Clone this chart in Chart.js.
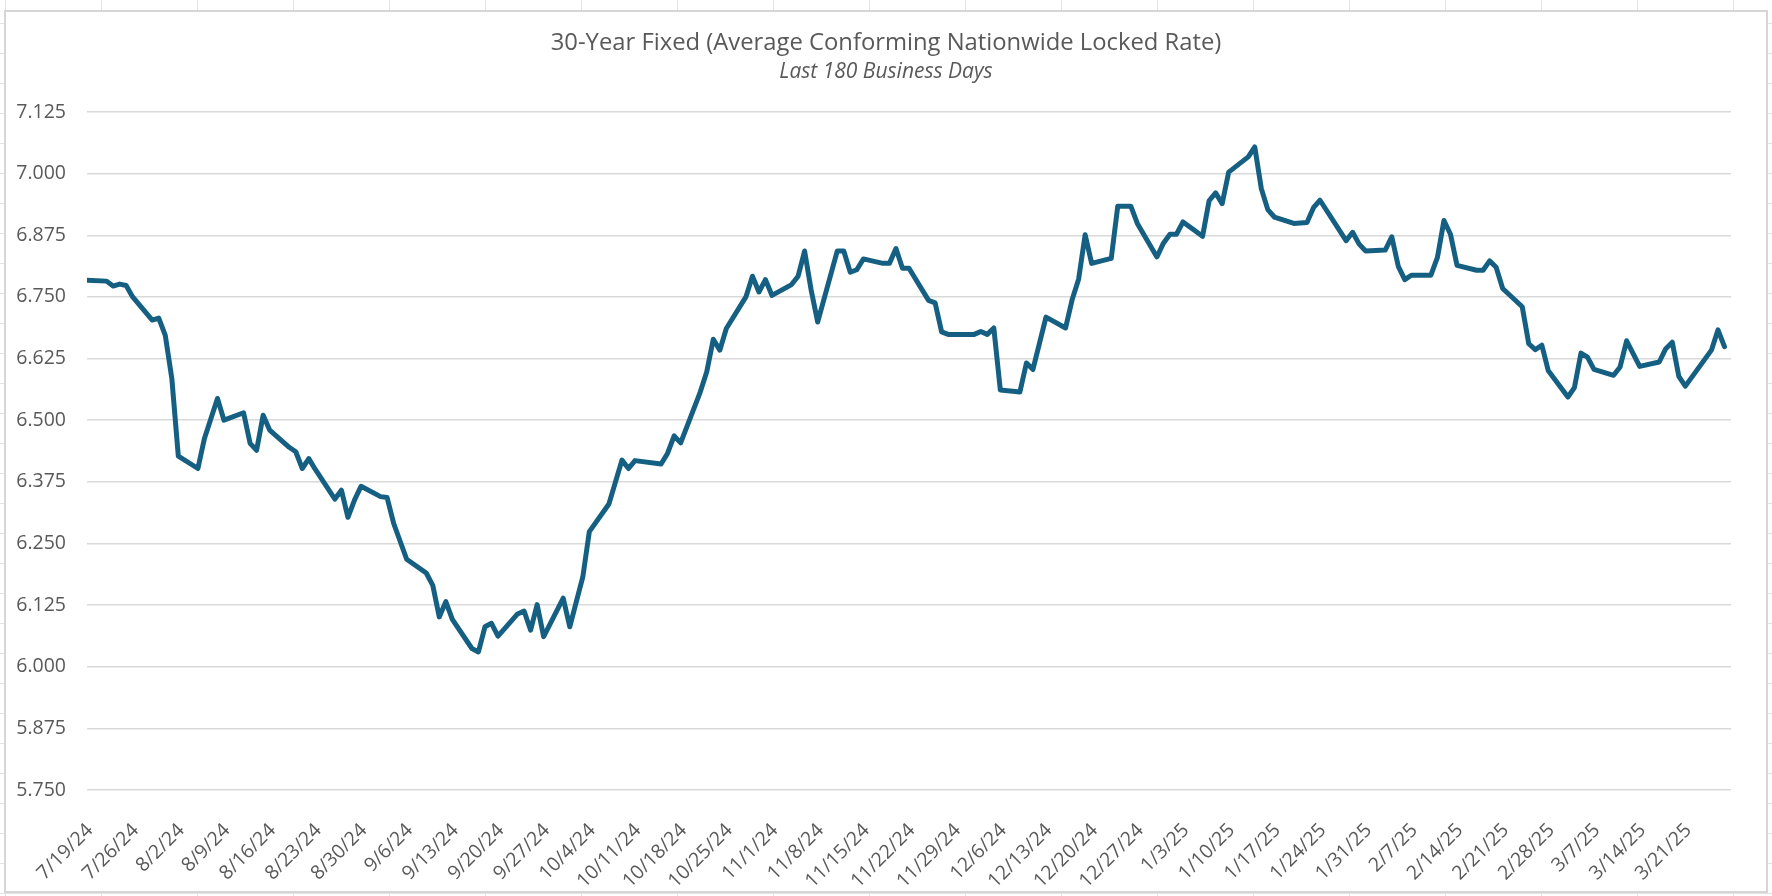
<!DOCTYPE html>
<html>
<head>
<meta charset="utf-8">
<title>30-Year Fixed</title>
<script src="https://cdn.jsdelivr.net/npm/chart.js@4.4.1/dist/chart.umd.min.js"></script>
<style>
  html, body { margin: 0; padding: 0; }
  body {
    width: 1772px; height: 896px; overflow: hidden; position: relative;
    background-color: #fff;
    background-image:
      linear-gradient(to right, #e3e3e3 1px, transparent 1px),
      linear-gradient(to bottom, #e3e3e3 1px, transparent 1px);
    background-size: 96px 30px;
    background-position: 5px 23px;
  }
  #frame {
    position: absolute; left: 4px; top: 10px; width: 1764px; height: 883px;
    box-sizing: border-box; background: #fff; border: 2px solid #d6d6d6;
  }
  #chart { position: absolute; left: 0; top: 0; }
</style>
</head>
<body>
<div id="frame"></div>
<canvas id="chart" width="1772" height="896"></canvas>
<script>
const chartTitle = '30-Year Fixed (Average Conforming Nationwide Locked Rate)';
const chartSubtitle = 'Last 180 Business Days';

const axisStart = '2024-07-19';
const axisEnd = '2025-03-28';

// business days
const dates = [
    '2024-07-19', '2024-07-22', '2024-07-23', '2024-07-24', '2024-07-25', '2024-07-26',
    '2024-07-29', '2024-07-30', '2024-07-31', '2024-08-01', '2024-08-02',
    '2024-08-05', '2024-08-06', '2024-08-08', '2024-08-09',
    '2024-08-12', '2024-08-13', '2024-08-14', '2024-08-15', '2024-08-16',
    '2024-08-19', '2024-08-20', '2024-08-21', '2024-08-22', '2024-08-23',
    '2024-08-26', '2024-08-27', '2024-08-28', '2024-08-29', '2024-08-30',
    '2024-09-02', '2024-09-03', '2024-09-04', '2024-09-06',
    '2024-09-09', '2024-09-10', '2024-09-11', '2024-09-12', '2024-09-13',
    '2024-09-16', '2024-09-17', '2024-09-18', '2024-09-19', '2024-09-20',
    '2024-09-23', '2024-09-24', '2024-09-25', '2024-09-26', '2024-09-27',
    '2024-09-30', '2024-10-01', '2024-10-03', '2024-10-04',
    '2024-10-07', '2024-10-09', '2024-10-10', '2024-10-11',
    '2024-10-15', '2024-10-16', '2024-10-17', '2024-10-18',
    '2024-10-21', '2024-10-22', '2024-10-23', '2024-10-24', '2024-10-25',
    '2024-10-28', '2024-10-29', '2024-10-30', '2024-10-31', '2024-11-01',
    '2024-11-04', '2024-11-05', '2024-11-06', '2024-11-07', '2024-11-08',
    '2024-11-11', '2024-11-12', '2024-11-13', '2024-11-14', '2024-11-15',
    '2024-11-18', '2024-11-19', '2024-11-20', '2024-11-21', '2024-11-22',
    '2024-11-25', '2024-11-26', '2024-11-27', '2024-11-28',
    '2024-12-02', '2024-12-03', '2024-12-04', '2024-12-05', '2024-12-06',
    '2024-12-09', '2024-12-10', '2024-12-11', '2024-12-13',
    '2024-12-16', '2024-12-17', '2024-12-18', '2024-12-19', '2024-12-20',
    '2024-12-23', '2024-12-24', '2024-12-26', '2024-12-27',
    '2024-12-30', '2024-12-31', '2025-01-01', '2025-01-02', '2025-01-03',
    '2025-01-06', '2025-01-07', '2025-01-08', '2025-01-09', '2025-01-10',
    '2025-01-13', '2025-01-14', '2025-01-15', '2025-01-16', '2025-01-17',
    '2025-01-20', '2025-01-22', '2025-01-23', '2025-01-24',
    '2025-01-28', '2025-01-29', '2025-01-30', '2025-01-31',
    '2025-02-03', '2025-02-04', '2025-02-05', '2025-02-06', '2025-02-07',
    '2025-02-10', '2025-02-11', '2025-02-12', '2025-02-13', '2025-02-14',
    '2025-02-17', '2025-02-18', '2025-02-19', '2025-02-20', '2025-02-21',
    '2025-02-24', '2025-02-25', '2025-02-26', '2025-02-27', '2025-02-28',
    '2025-03-03', '2025-03-04', '2025-03-05', '2025-03-06', '2025-03-07',
    '2025-03-10', '2025-03-11', '2025-03-12', '2025-03-14',
    '2025-03-17', '2025-03-18', '2025-03-19', '2025-03-20', '2025-03-21',
    '2025-03-25', '2025-03-26', '2025-03-27'
];

const rates = [
    6.784, 6.782, 6.772, 6.776, 6.773, 6.750,
    6.703, 6.707, 6.672, 6.585, 6.427,
    6.402, 6.463, 6.544, 6.500,
    6.515, 6.453, 6.439, 6.510, 6.480,
    6.445, 6.436, 6.402, 6.422, 6.400,
    6.340, 6.358, 6.303, 6.338, 6.366,
    6.345, 6.343, 6.291, 6.218,
    6.190, 6.165, 6.101, 6.132, 6.096,
    6.037, 6.030, 6.081, 6.088, 6.062,
    6.107, 6.113, 6.074, 6.126, 6.061,
    6.139, 6.081, 6.182, 6.274,
    6.330, 6.419, 6.402, 6.418,
    6.411, 6.433, 6.468, 6.454,
    6.557, 6.598, 6.664, 6.642, 6.686,
    6.750, 6.792, 6.760, 6.785, 6.753,
    6.775, 6.792, 6.843, 6.764, 6.699,
    6.843, 6.843, 6.800, 6.805, 6.827,
    6.818, 6.818, 6.848, 6.808, 6.808,
    6.743, 6.738, 6.679, 6.674,
    6.674, 6.680, 6.674, 6.687, 6.561,
    6.557, 6.616, 6.603, 6.709,
    6.687, 6.744, 6.786, 6.876, 6.818,
    6.828, 6.934, 6.934, 6.899,
    6.831, 6.859, 6.877, 6.877, 6.902,
    6.873, 6.945, 6.961, 6.939, 7.003,
    7.034, 7.054, 6.970, 6.927, 6.912,
    6.899, 6.901, 6.931, 6.946,
    6.864, 6.881, 6.857, 6.843,
    6.845, 6.872, 6.812, 6.785, 6.794,
    6.794, 6.830, 6.905, 6.877, 6.814,
    6.804, 6.804, 6.823, 6.810, 6.767,
    6.730, 6.655, 6.643, 6.652, 6.600,
    6.547, 6.566, 6.636, 6.628, 6.603,
    6.591, 6.608, 6.661, 6.609,
    6.618, 6.645, 6.658, 6.589, 6.569,
    6.642, 6.683, 6.649
];

const tickLabels = [
    '7/19/24', '7/26/24', '8/2/24', '8/9/24', '8/16/24', '8/23/24', '8/30/24',
    '9/6/24', '9/13/24', '9/20/24', '9/27/24', '10/4/24', '10/11/24', '10/18/24',
    '10/25/24', '11/1/24', '11/8/24', '11/15/24', '11/22/24', '11/29/24', '12/6/24',
    '12/13/24', '12/20/24', '12/27/24', '1/3/25', '1/10/25', '1/17/25', '1/24/25',
    '1/31/25', '2/7/25', '2/14/25', '2/21/25', '2/28/25', '3/7/25', '3/14/25', '3/21/25'
];

const yTicks = [5.750, 5.875, 6.000, 6.125, 6.250, 6.375, 6.500, 6.625, 6.750, 6.875, 7.000, 7.125];

const DAY = 86400000;
const origin = Date.parse(axisStart);
const dayOf = s => Math.round((Date.parse(s) - origin) / DAY);
const labelDay = l => {
    const [m, d, y] = l.split('/').map(Number);
    return Math.round((Date.UTC(2000 + y, m - 1, d) - origin) / DAY);
};

const grey = '#595959';
const tickFont = { family: "'Open Sans', sans-serif", size: 19.5 };

new Chart(document.getElementById('chart'), {
    type: 'line',
    data: {
        datasets: [{
            data: dates.map((d, i) => ({ x: dayOf(d), y: rates[i] })),
            borderColor: '#156082',
            borderWidth: 5,
            borderJoinStyle: 'round',
            borderCapStyle: 'round',
            pointRadius: 0,
            tension: 0
        }]
    },
    options: {
        responsive: false,
        animation: false,
        layout: { padding: 0 },
        plugins: {
            legend: { display: false },
            tooltip: { enabled: false },
            title: {
                display: true, text: chartTitle, color: grey,
                font: { family: "'Open Sans', sans-serif", size: 23.8, weight: 'normal', lineHeight: 0.8 },
                padding: { top: 34, bottom: 0 }
            },
            subtitle: {
                display: true, text: chartSubtitle, color: grey,
                font: { family: "'Open Sans', sans-serif", size: 21, style: 'italic', lineHeight: 0.75 },
                padding: { top: 11.6, bottom: 31.6 }
            }
        },
        scales: {
            x: {
                type: 'linear',
                min: 0,
                max: dayOf(axisEnd),
                grid: { display: false },
                border: { display: false },
                afterBuildTicks: s => { s.ticks = tickLabels.map(l => ({ value: labelDay(l) })); },
                afterFit: s => { s.height = 106; },
                ticks: {
                    autoSkip: false, minRotation: 45, maxRotation: 45,
                    padding: 21, labelOffset: 3,
                    color: grey, font: tickFont,
                    callback: (v, i) => tickLabels[i]
                }
            },
            y: {
                min: yTicks[0],
                max: yTicks[yTicks.length - 1],
                afterBuildTicks: s => { s.ticks = yTicks.map(v => ({ value: v })); },
                afterFit: s => { s.width = 87; },
                grid: { color: '#d9d9d9', lineWidth: 1.5, drawTicks: false },
                border: { display: false },
                ticks: {
                    padding: 21, color: grey, font: tickFont,
                    callback: v => v.toFixed(3)
                }
            },
            // empty right margin so the titles stay centred on the whole frame
            gap: {
                type: 'linear',
                position: 'right',
                grid: { display: false },
                border: { display: false },
                ticks: { display: false },
                afterFit: s => { s.width = 41; }
            }
        }
    }
});
</script>
</body>
</html>
